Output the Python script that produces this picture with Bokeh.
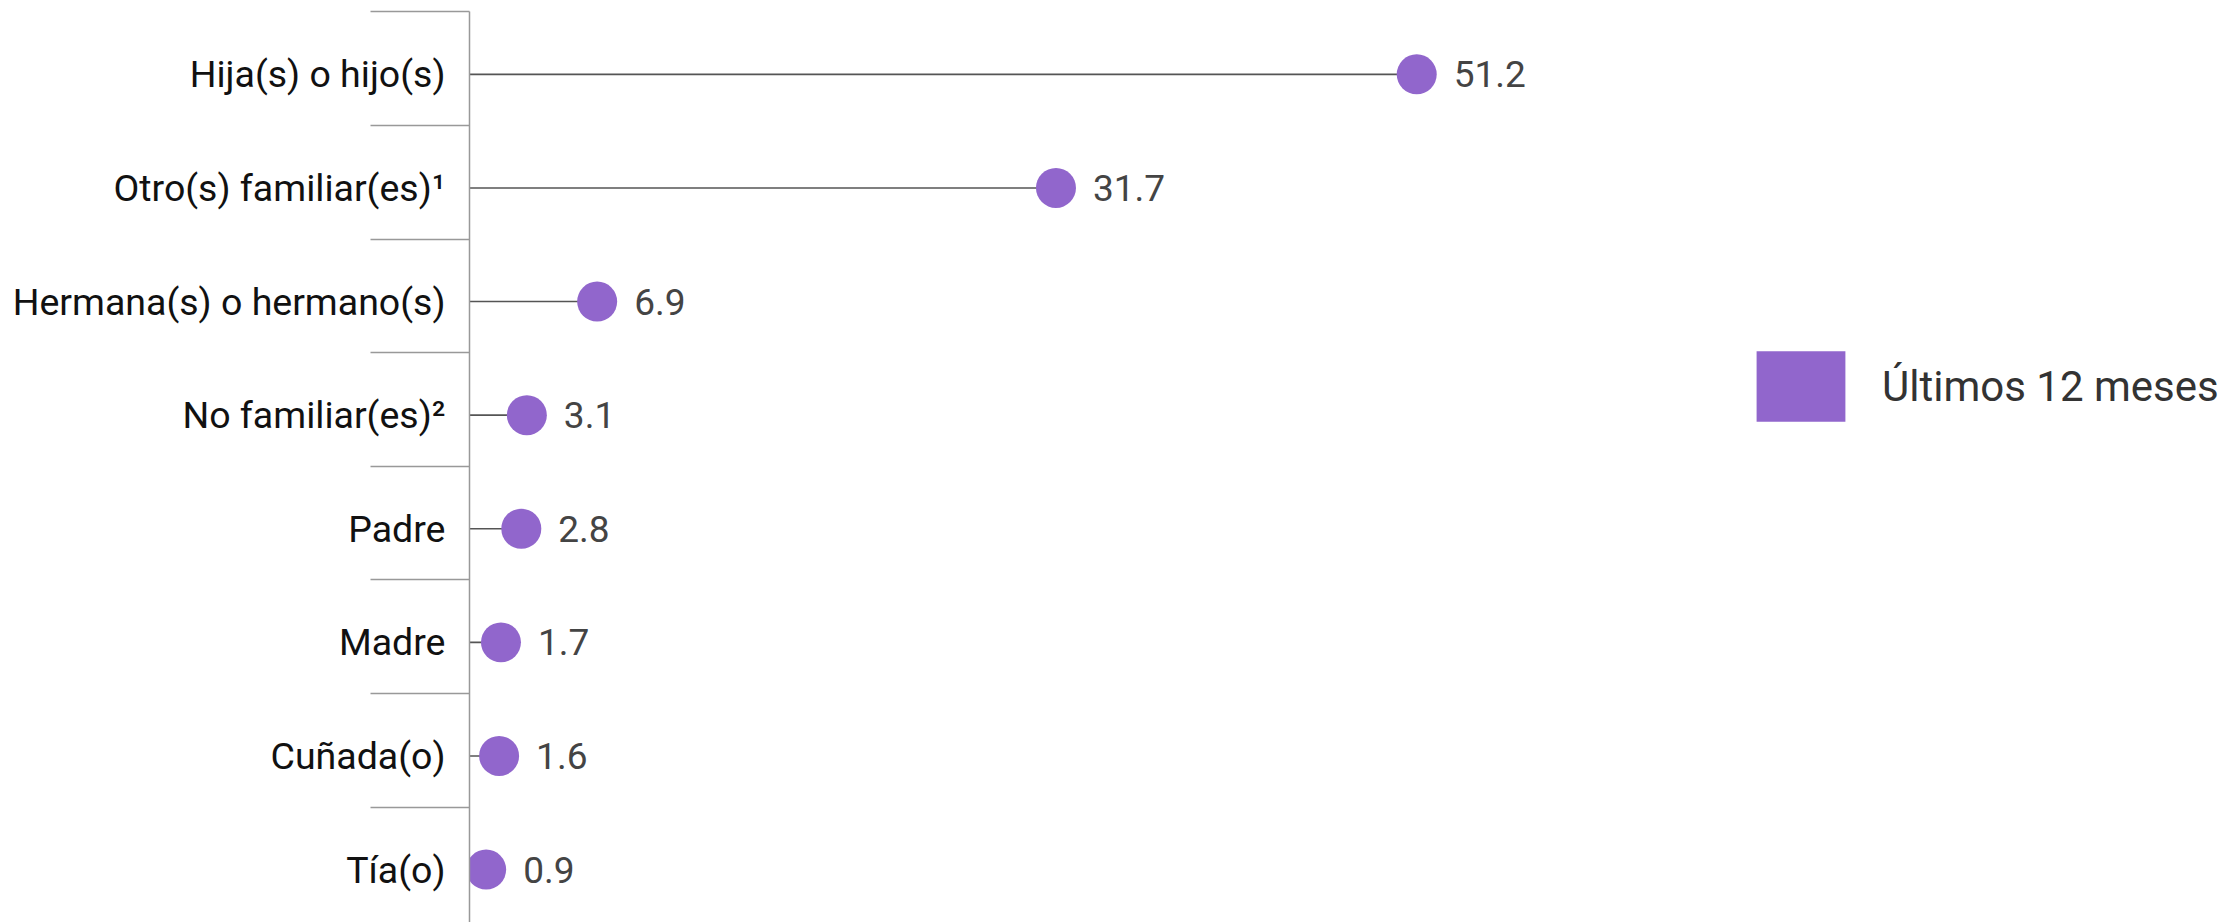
from bokeh.plotting import figure
from bokeh.models import Range1d, FixedTicker, ColumnDataSource, Legend, LegendItem
from bokeh.core.properties import value
from bokeh.embed import file_html
from bokeh.resources import INLINE

categories = ["Hija(s) o hijo(s)", "Otro(s) familiar(es)¹", "Hermana(s) o hermano(s)",
              "No familiar(es)²", "Padre", "Madre", "Cuñada(o)", "Tía(o)"]
values = [51.2, 31.7, 6.9, 3.1, 2.8, 1.7, 1.6, 0.9]
series_name = "Últimos 12 meses"

PURPLE = "#9166CC"
pos = list(range(len(categories)))

src = ColumnDataSource(dict(
    y=pos,
    x=values,
    zero=[0] * len(values),
    lbl=[f"{v:.1f}" for v in values],
))

p = figure(width=2231, height=922, output_backend="svg", toolbar_location=None,
           x_range=Range1d(0, 95.24), y_range=Range1d(start=7.466, end=-0.65),
           min_border_left=469, min_border_right=0, min_border_top=0, min_border_bottom=0)
p.outline_line_color = None
p.grid.visible = False
p.xaxis.visible = False
p.background_fill_color = "white"
p.border_fill_color = "white"

yax = p.yaxis[0]
yax.ticker = FixedTicker(ticks=pos, minor_ticks=[i - 0.55 for i in pos])
yax.major_label_overrides = {float(i): c for i, c in zip(pos, categories)}
yax.major_tick_line_color = None
yax.major_tick_out = 0
yax.major_tick_in = 0
yax.minor_tick_out = 99
yax.minor_tick_in = 0
yax.minor_tick_line_color = "#999999"
yax.minor_tick_line_width = 1.5
yax.axis_line_color = "#999999"
yax.axis_line_width = 1.5
yax.major_label_standoff = -75
yax.major_label_text_font = "Roboto"
yax.major_label_text_font_size = "37.5px"
yax.major_label_text_color = "#111111"
yax.bounds = (-0.55, 7.466)

p.segment(x0="zero", y0="y", x1="x", y1="y", source=src, line_color="#555555", line_width=1.6)
p.scatter(x="x", y="y", source=src, size=40, fill_color=PURPLE, line_color=None)
p.text(x="x", y="y", text="lbl", source=src, x_offset=37, text_baseline="middle",
       text_align="left", text_font=value("Roboto"), text_font_size="37px", text_color="#444444")

nan = float("nan")
leg_r = p.quad(left=[nan], right=[nan], top=[nan], bottom=[nan], fill_color=PURPLE, line_color=None)
legend = Legend(items=[LegendItem(label=series_name, renderers=[leg_r])],
                location=(1276, 492), orientation="vertical",
                glyph_width=111, glyph_height=88, label_standoff=26,
                label_text_font="Roboto", label_text_font_size="42px", label_text_color="#333333",
                label_text_baseline="middle",
                padding=0, margin=0, border_line_color=None, background_fill_alpha=0)
p.add_layout(legend, "center")

open("out.html", "w").write(file_html(p, INLINE))
